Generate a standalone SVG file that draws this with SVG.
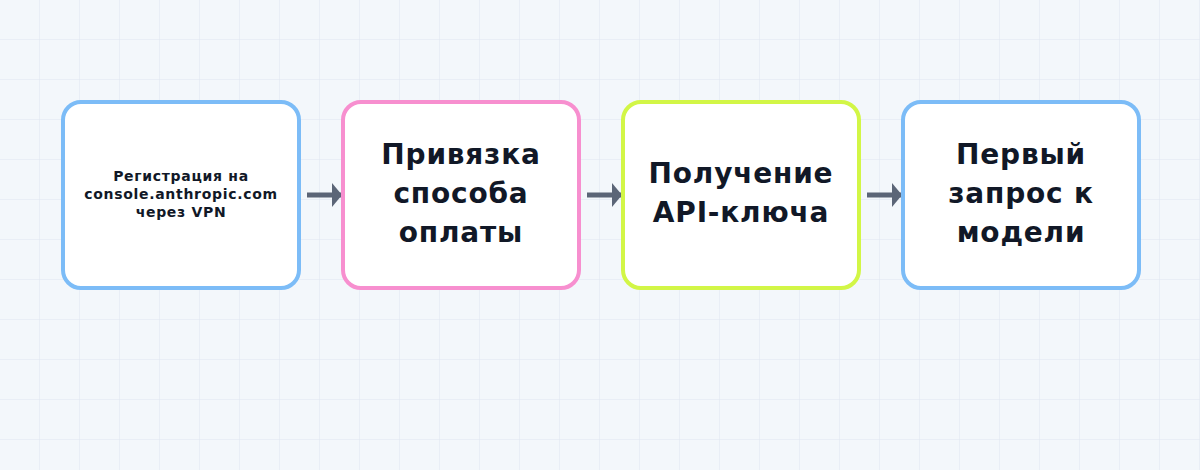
<svg xmlns="http://www.w3.org/2000/svg" width="1200" height="470" viewBox="0 0 1200 470">
<defs>
<pattern id="grid" width="40" height="40" patternUnits="userSpaceOnUse">
<rect width="40" height="40" fill="#f3f7fb"/>
<path d="M40 0V40M0 40H40" fill="none" stroke="#dfe6f1" stroke-width="1"/>
</pattern>
<marker id="ah" markerWidth="10" markerHeight="24" refX="10" refY="12" orient="auto" markerUnits="userSpaceOnUse">
<path d="M0 0L10 12L0 24Z" fill="#5b6577"/>
</marker>
<style>
.box{fill:#ffffff;stroke-width:4}
.blue{stroke:#7cbcf7}
.pink{stroke:#f78fcf}
.lime{stroke:#d2f646}
.t{font-family:"DejaVu Sans",sans-serif;font-weight:bold;fill:#111827;text-anchor:middle}
.big{font-size:28px;letter-spacing:0.8px}
.small{font-size:14px;letter-spacing:0.7px}
.conn{stroke:#5b6577;stroke-width:5;fill:none}
</style>
</defs>
<rect width="1200" height="470" fill="url(#grid)"/>
<g id="connectors">
<line class="conn" x1="307" y1="195" x2="342" y2="195" marker-end="url(#ah)"/>
<line class="conn" x1="587" y1="195" x2="622" y2="195" marker-end="url(#ah)"/>
<line class="conn" x1="867" y1="195" x2="902" y2="195" marker-end="url(#ah)"/>
</g>
<g id="node1">
<rect class="box blue" x="63" y="102" width="236" height="186" rx="18"/>
<text class="t small" x="181" y="181">Регистрация на</text>
<text class="t small" x="181" y="199">console.anthropic.com</text>
<text class="t small" x="181" y="217">через VPN</text>
</g>
<g id="node2">
<rect class="box pink" x="343" y="102" width="236" height="186" rx="18"/>
<text class="t big" x="461" y="164">Привязка</text>
<text class="t big" x="461" y="203">способа</text>
<text class="t big" x="461" y="242">оплаты</text>
</g>
<g id="node3">
<rect class="box lime" x="623" y="102" width="236" height="186" rx="18"/>
<text class="t big" x="741" y="183">Получение</text>
<text class="t big" x="741" y="222">API-ключа</text>
</g>
<g id="node4">
<rect class="box blue" x="903" y="102" width="236" height="186" rx="18"/>
<text class="t big" x="1021" y="164">Первый</text>
<text class="t big" x="1021" y="203">запрос к</text>
<text class="t big" x="1021" y="242">модели</text>
</g>
</svg>
